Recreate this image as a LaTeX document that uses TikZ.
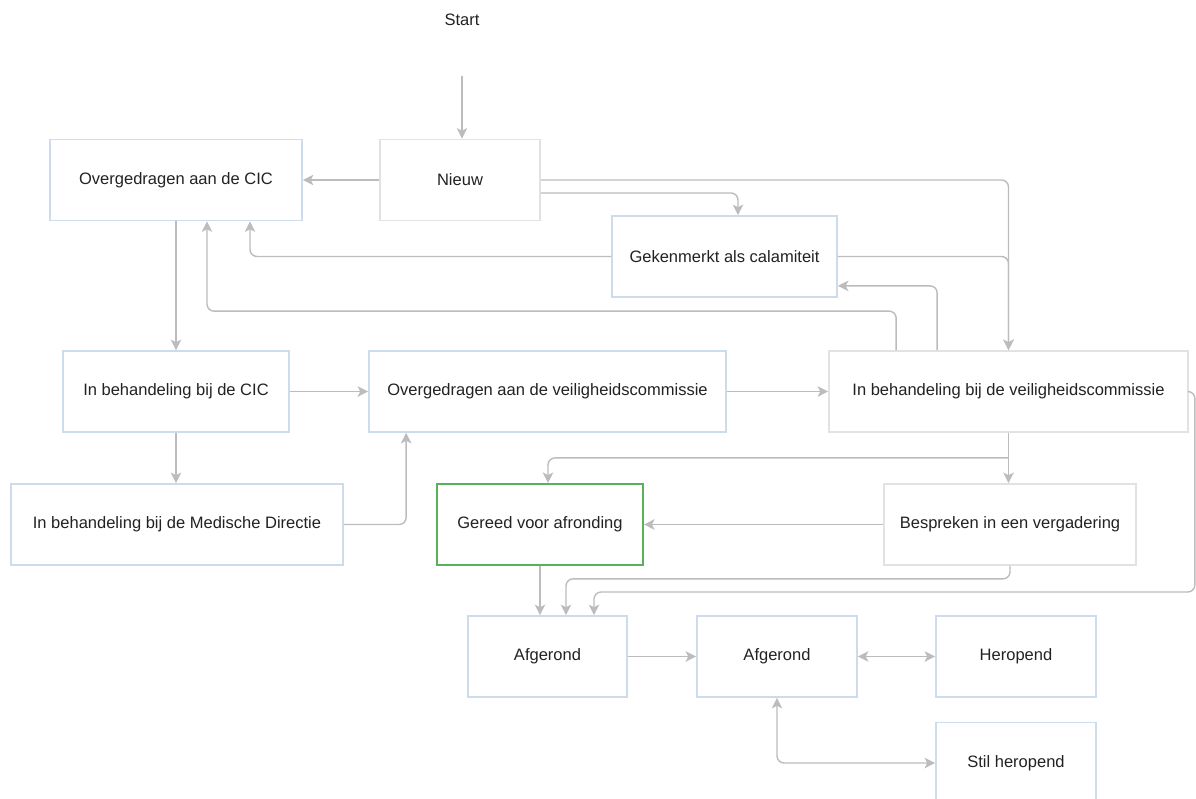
\documentclass[tikz,border=0pt]{standalone}
\usepackage{fontspec}
\setmainfont{Liberation Sans}
\usetikzlibrary{arrows.meta, calc}
\definecolor{boxblue}{RGB}{204,220,236}
\definecolor{boxgray}{RGB}{226,226,226}
\definecolor{donegreen}{RGB}{92,176,92}
\definecolor{linegray}{RGB}{188,188,188}
\definecolor{txt}{RGB}{34,34,34}

\begin{document}
\begin{tikzpicture}[x=0.02cm, y=-0.02cm,
    >={Stealth[length=6pt, width=6pt, inset=1.5pt]},
    every node/.style={font=\fontsize{9.4}{11}\selectfont, text=txt},
    state/.style={draw=boxblue, line width=1pt, fill=white, minimum height=1.62cm, inner sep=0pt},
    graystate/.style={state, draw=boxgray},
    donestate/.style={state, draw=donegreen, line width=1.2pt},
    conn/.style={draw=linegray, line width=0.8pt, rounded corners=4pt, ->},
    twoway/.style={conn, <->}]
    \useasboundingbox (0,0) rectangle (1196,798);
    \clip (0,0) rectangle (1196,798);

    \node (start) at (462,20) {Start};
    \node[graystate, minimum width=3.2cm] (nieuw) at (460,180) {Nieuw};
    \node[state, minimum width=5.04cm] (ocic) at (176,180) {Overgedragen aan de CIC};
    \node[state, minimum width=4.5cm] (gek) at (724.5,256.5) {Gekenmerkt als calamiteit};
    \node[state, minimum width=4.52cm] (ibcic) at (176,391.5) {In behandeling bij de CIC};
    \node[state, minimum width=7.14cm] (ovc) at (547.5,391.5) {Overgedragen aan de veiligheidscommissie};
    \node[graystate, minimum width=7.18cm] (ibvc) at (1008.5,391.5) {In behandeling bij de veiligheidscommissie};
    \node[state, minimum width=6.64cm] (md) at (177,524.5) {In behandeling bij de Medische Directie};
    \node[donestate, minimum width=4.12cm] (gereed) at (540,524.5) {Gereed voor afronding};
    \node[graystate, minimum width=5.04cm] (besp) at (1010,524.5) {Bespreken in een vergadering};
    \node[state, minimum width=3.18cm] (afg1) at (547.5,656.5) {Afgerond};
    \node[state, minimum width=3.2cm] (afg2) at (777,656.5) {Afgerond};
    \node[state, minimum width=3.2cm] (her) at (1016,656.5) {Heropend};
    \node[state, minimum width=3.2cm] (stil) at (1016,763) {Stil heropend};

    % top part
    \draw[conn, shorten <=0.88cm] (start) -- (start |- nieuw.north);
    \draw[conn] (nieuw) -- (ocic);
    \draw[conn] (nieuw.east) -| (ibvc.north);
    \draw[conn] ($(nieuw.east)+(0,13)$) -| ($(gek.north)+(13.5,0)$);
    \draw[conn] (gek.east) -| (ibvc.north);
    \draw[conn] (gek.west) -| ($(ocic.south)+(74,0)$);
    \draw[conn] ($(ibvc.north west)+(68,0)$) -- ++(0,-39) -| ($(ocic.south)+(31,0)$);
    \draw[conn] ($(ibvc.north west)+(109,0)$) |- ($(gek.south east)+(0,-12)$);

    % middle
    \draw[conn] (ocic) -- (ibcic);
    \draw[conn] (ibcic) -- (ovc);
    \draw[conn] (ibcic.south) -- (ibcic.south |- md.north);
    \draw[conn] (md.east) -| ($(ovc.south west)+(38,0)$);
    \draw[conn] (ovc) -- (ibvc);
    \draw[conn] (ibvc.south) -- (ibvc.south |- besp.north);
    \draw[conn] ($(ibvc.south)+(0,25)$) -| ($(gereed.north)+(8,0)$);
    \draw[conn] (besp) -- (gereed);

    % bottom
    \draw[conn] (gereed.south) -- (gereed.south |- afg1.north);
    \draw[conn] (besp.south) -- ++(0,13) -| ($(afg1.north)+(18.5,0)$);
    \draw[conn] (ibvc.east) -- ++(6,0) -- ++(0,200.5) -| ($(afg1.north)+(46.5,0)$);
    \draw[conn] (afg1) -- (afg2);
    \draw[twoway] (afg2) -- (her);
    \draw[twoway] (afg2.south) |- (stil.west);
\end{tikzpicture}
\end{document}
